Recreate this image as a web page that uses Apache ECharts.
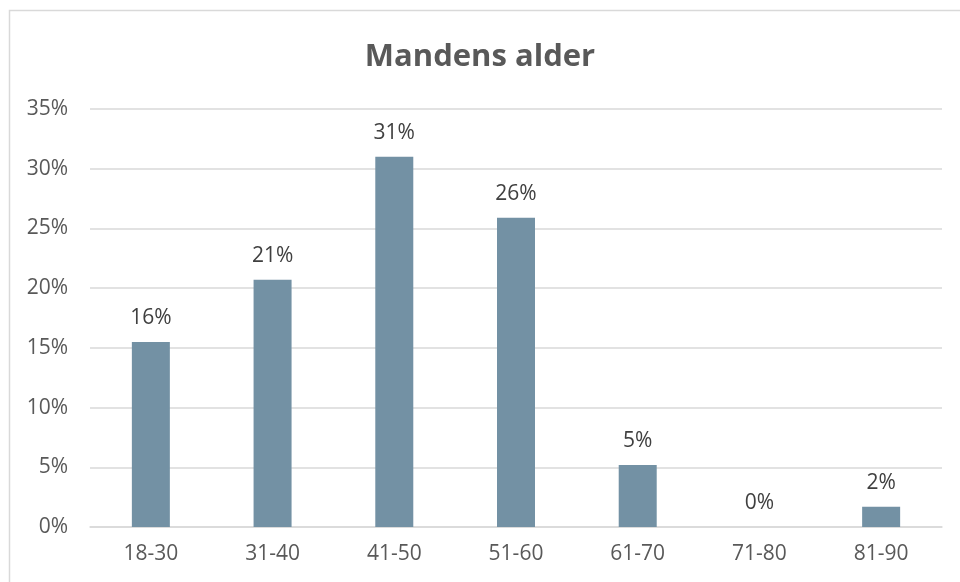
<!DOCTYPE html>
<html>
<head>
<meta charset="utf-8">
<script src="https://cdn.jsdelivr.net/npm/echarts@6/dist/echarts.min.js"></script>
<style>
  html, body { margin: 0; padding: 0; background: #fff; }
  #chart { width: 960px; height: 582px; }
</style>
</head>
<body>
<div id="chart"></div>
<script>
// aldersgrupper og andele (%)
const categories = ["18-30", "31-40", "41-50", "51-60", "61-70", "71-80", "81-90"];
const shares = [15.5, 20.7, 31.0, 25.9, 5.2, 0, 1.7];
const yTicks = [0, 5, 10, 15, 20, 25, 30, 35];

const chart = echarts.init(document.getElementById("chart"));
const font = "'Open Sans', 'Liberation Sans', sans-serif";

chart.setOption({
  animation: false,
  title: {
    text: "Mandens alder",
    left: "center",
    top: 37,
    textStyle: { fontFamily: font, fontSize: 31, fontWeight: "bold", color: "#595959" }
  },
  graphic: [{
    type: "rect",
    shape: { x: 9.5, y: 10.5, width: 960, height: 600 },
    style: { fill: "none", stroke: "#d9d9d9", lineWidth: 1.5 },
    silent: true
  }],
  grid: { left: 90, right: 18, top: 109, bottom: 55 },
  xAxis: {
    type: "category",
    data: categories,
    axisLine: { show: true, lineStyle: { color: "#d9d9d9", width: 1.5 } },
    axisTick: { show: false },
    axisLabel: { fontFamily: font, fontSize: 21, color: "#595959", margin: 17 }
  },
  yAxis: {
    type: "value",
    min: yTicks[0],
    max: yTicks[yTicks.length - 1],
    interval: 5,
    axisLine: { show: false },
    axisTick: { show: false },
    splitLine: { lineStyle: { color: "#d9d9d9", width: 1.5 } },
    axisLabel: { fontFamily: font, fontSize: 21, color: "#595959", margin: 22, formatter: v => v + "%" }
  },
  series: [{
    type: "bar",
    data: shares,
    barWidth: 38,
    itemStyle: { color: "#7391a4" },
    label: {
      show: true,
      position: "top",
      distance: 13,
      fontFamily: font,
      fontSize: 21,
      color: "#404040",
      formatter: p => Math.round(p.value) + "%"
    }
  }]
});
</script>
</body>
</html>
